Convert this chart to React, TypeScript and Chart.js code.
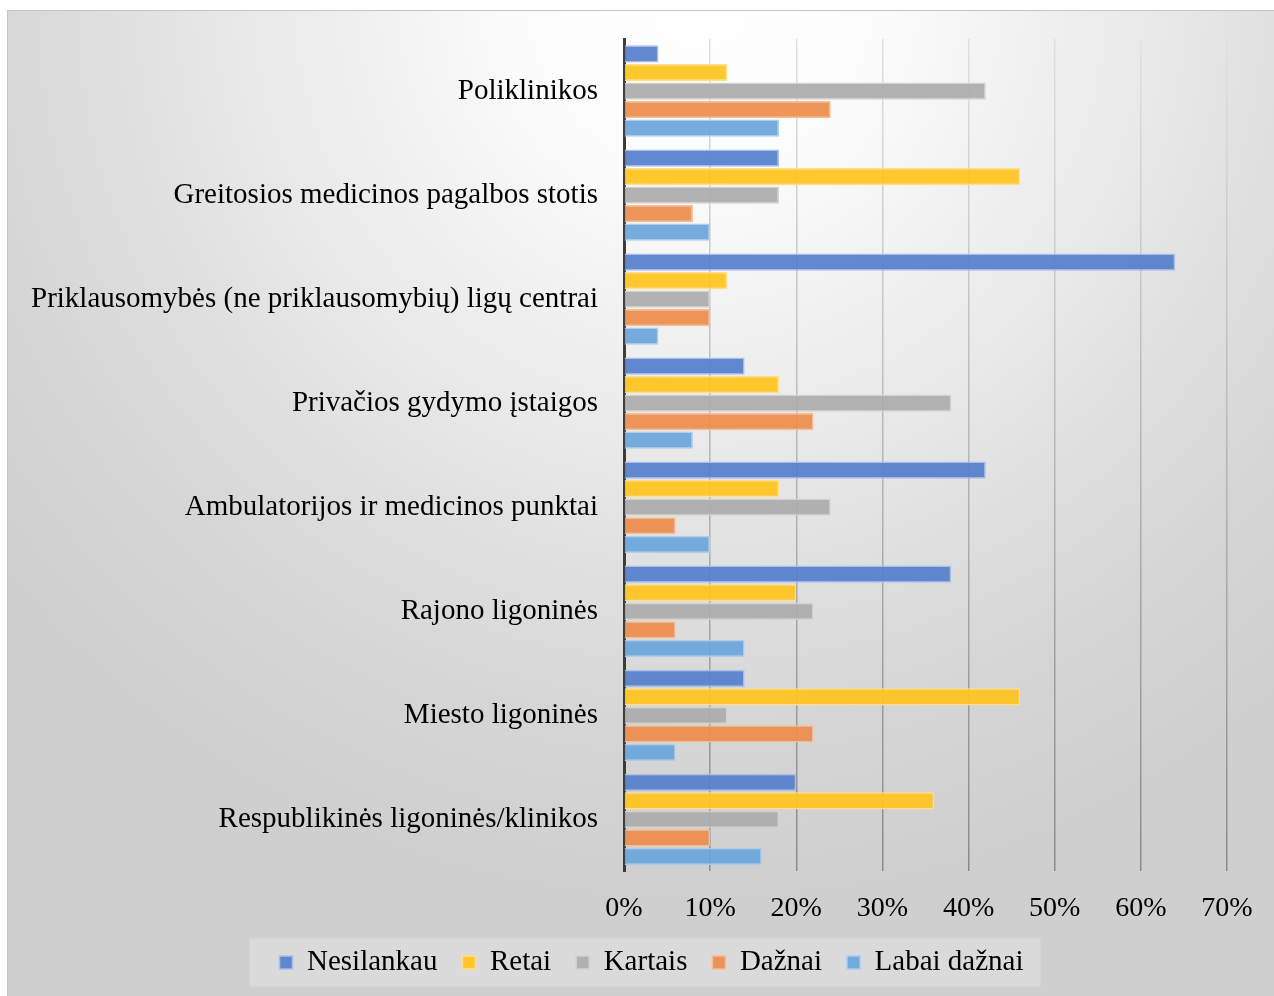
import React, { useEffect, useRef } from 'react';
import { Chart, registerables } from 'chart.js';

Chart.register(...registerables);

const categories = [
  'Poliklinikos',
  'Greitosios medicinos pagalbos stotis',
  'Priklausomybės (ne priklausomybių) ligų centrai',
  'Privačios gydymo įstaigos',
  'Ambulatorijos ir medicinos punktai',
  'Rajono ligoninės',
  'Miesto ligoninės',
  'Respublikinės ligoninės/klinikos',
];
const seriesNames = ['Nesilankau', 'Retai', 'Kartais', 'Dažnai', 'Labai dažnai'];
const nesilankau = [4, 18, 64, 14, 42, 38, 14, 20];
const retai = [12, 46, 12, 18, 18, 20, 46, 36];
const kartais = [42, 18, 10, 38, 24, 22, 12, 18];
const daznai = [24, 8, 10, 22, 6, 6, 22, 10];
const labaiDaznai = [18, 10, 4, 8, 10, 14, 6, 16];
const xMin = 0;
const xMax = 70;
const xStep = 10;

const fills = [
  'rgba(86,128,204,0.93)',
  'rgba(255,196,30,0.93)',
  'rgba(172,172,172,0.93)',
  'rgba(237,141,76,0.93)',
  'rgba(108,166,218,0.93)',
];
const borders = ['#a9bfe7', '#ffdf86', '#d2d2d2', '#f6bd94', '#abcdee'];

const FONT = '"Liberation Serif", "Times New Roman", serif';

const bgPlugin = {
  id: 'bgPlugin',
  afterLayout(chart: any) {
    const lg = chart.legend;
    if (lg) {
      lg.left += 38;
      lg.right += 38;
      lg.top -= 22;
      lg.bottom -= 22;
    }
  },
  beforeDraw(chart: any) {
    const { ctx, width, height } = chart;
    ctx.save();
    ctx.fillStyle = '#ffffff';
    ctx.fillRect(0, 0, width, height);
    const g = ctx.createRadialGradient(700, 0, 0, 700, 0, 900);
    g.addColorStop(0, '#ffffff');
    g.addColorStop(0.2, '#fbfbfb');
    g.addColorStop(0.5, '#e9e9e9');
    g.addColorStop(0.8, '#d6d6d6');
    g.addColorStop(1, '#cfcfcf');
    ctx.fillStyle = g;
    ctx.fillRect(7, 10, width - 7, height - 10);
    ctx.strokeStyle = '#c4c4c4';
    ctx.lineWidth = 1;
    ctx.beginPath();
    ctx.moveTo(7.5, height);
    ctx.lineTo(7.5, 10.5);
    ctx.lineTo(width, 10.5);
    ctx.stroke();
    const boxes = chart.legend && chart.legend.legendHitBoxes;
    if (boxes && boxes.length) {
      const l = Math.min(...boxes.map((b: any) => b.left)) - 30;
      const r = Math.max(...boxes.map((b: any) => b.left + b.width)) + 17;
      const cy = boxes[0].top + boxes[0].height / 2;
      ctx.fillStyle = '#dadada';
      ctx.fillRect(l, cy - 24, r - l, 48);
    }
    ctx.restore();
  },
};

export default function App() {
  const ref = useRef<HTMLCanvasElement | null>(null);
  useEffect(() => {
    if (!ref.current) return;
    const values = [nesilankau, retai, kartais, daznai, labaiDaznai];
    const chart = new Chart(ref.current, {
      type: 'bar',
      data: {
        labels: categories,
        datasets: seriesNames.map((name, i) => ({
          label: name,
          data: values[i],
          backgroundColor: fills[i],
          borderColor: borders[i],
          borderWidth: 1.5,
          categoryPercentage: 0.89,
          barPercentage: 0.93,
        })),
      },
      options: {
        indexAxis: 'y',
        responsive: false,
        animation: false,
        layout: { padding: { top: 39, left: 0, right: 47, bottom: 0 } },
        plugins: {
          tooltip: { enabled: false },
          legend: {
            position: 'bottom',
            maxHeight: 51,
            labels: {
              font: { family: FONT, size: 29 },
              color: '#000',
              boxWidth: 13,
              boxHeight: 13,
              padding: 25,
            },
          },
        },
        scales: {
          x: {
            min: xMin,
            max: xMax,
            ticks: {
              stepSize: xStep,
              font: { family: FONT, size: 28 },
              color: '#000',
              padding: 20,
              callback: (v: any) => v + '%',
            },
            grid: {
              drawTicks: false,
              lineWidth: 1.5,
              color: (c: any) => {
                const ch = c.chart;
                const a = ch.chartArea;
                if (!a) return '#bbbbbb';
                const g = ch.ctx.createLinearGradient(0, a.top, 0, a.bottom);
                g.addColorStop(0, '#e0e0e0');
                g.addColorStop(1, '#8a8a8a');
                return g;
              },
            },
            border: { display: false },
          },
          y: {
            ticks: {
              font: { family: FONT, size: 29 },
              color: '#000',
              padding: 26,
            },
            grid: { display: false, drawTicks: false },
            border: { display: true, color: '#3c3c3c', width: 3 },
            afterFit: (s: any) => {
              s.width = 624;
              s.paddingTop = 0;
              s.paddingBottom = 0;
            },
          },
        },
      },
      plugins: [bgPlugin],
    } as any);
    return () => chart.destroy();
  }, []);
  return (
    <div style={{ position: 'fixed', left: 0, top: 0, width: 1274, height: 996 }}>
      <canvas ref={ref} width={1274} height={996} style={{ display: 'block' }} />
    </div>
  );
}
